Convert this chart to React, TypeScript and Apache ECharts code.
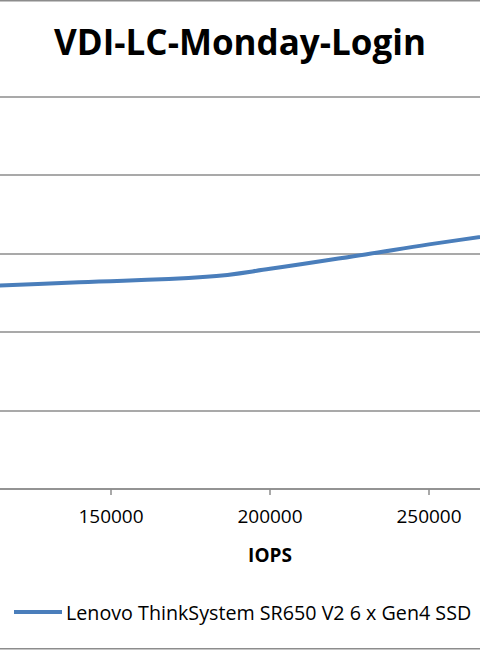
import React, { useEffect, useRef } from "react";
import * as echarts from "echarts";

const TITLE = "VDI-LC-Monday-Login";
const X_NAME = "IOPS";
const SERIES_NAME = "Lenovo ThinkSystem SR650 V2 6 x Gen4 SSD";
const IOPS = [100000, 140000, 180000, 200000, 230000, 250000, 280000];
const LATENCY = [1.285, 1.317, 1.352, 1.403, 1.495, 1.559, 1.645];

const FONT = "'Open Sans', 'Noto Sans', sans-serif";

export default function App() {
  const ref = useRef<HTMLDivElement>(null);
  useEffect(() => {
    if (!ref.current) return;
    const chart = echarts.init(ref.current, undefined, { renderer: "svg" });
    chart.setOption({
      animation: false,
      backgroundColor: "#ffffff",
      title: {
        text: TITLE,
        left: "center",
        top: 19,
        textStyle: { fontFamily: FONT, fontSize: 35, fontWeight: "bold", color: "#000" },
      },
      legend: {
        bottom: 23,
        left: 9,
        itemWidth: 48,
        itemHeight: 4,
        itemGap: 4,
        icon: "rect",
        textStyle: { fontFamily: FONT, fontSize: 19.7, color: "#000", padding: [0, 0, 0, -1] },
        data: [SERIES_NAME],
      },
      grid: {
        left: -48,
        right: -108,
        top: 96.7,
        bottom: 161,
        containLabel: false,
        outerBoundsMode: "none",
      },
      xAxis: {
        type: "value",
        min: 100000,
        max: 300000,
        interval: 50000,
        name: X_NAME,
        nameLocation: "middle",
        nameGap: 56,
        nameTextStyle: { fontFamily: FONT, fontSize: 19, fontWeight: "bold", color: "#000" },
        axisLine: { lineStyle: { color: "#8c8c8c", width: 1.5 } },
        axisTick: { show: true, length: 6, lineStyle: { color: "#8c8c8c", width: 1.5 } },
        axisLabel: {
          fontFamily: FONT,
          fontSize: 19,
          color: "#000",
          margin: 17,
          showMinLabel: false,
          showMaxLabel: false,
          formatter: (v: number) => String(v),
        },
        splitLine: { show: false },
      },
      yAxis: {
        type: "value",
        min: 0,
        max: 2.5,
        interval: 0.5,
        axisLine: { show: false },
        axisTick: { show: false },
        axisLabel: { show: false },
        splitLine: { lineStyle: { color: "#8c8c8c", width: 1.5 } },
      },
      series: [
        {
          name: SERIES_NAME,
          type: "line",
          data: IOPS.map((x, i) => [x, LATENCY[i]]),
          smooth: 0.4,
          showSymbol: false,
          lineStyle: { color: "#4a7ebb", width: 4 },
          itemStyle: { color: "#4a7ebb" },
        },
      ],
      graphic: [
        {
          type: "rect",
          shape: { x: -10, y: 0.75, width: 500, height: 648 },
          style: { fill: "none", stroke: "#8c8c8c", lineWidth: 1.5 },
          silent: true,
        },
      ],
    });
    return () => chart.dispose();
  }, []);
  return (
    <div
      ref={ref}
      style={{ position: "fixed", left: 0, top: 0, width: 480, height: 650 }}
    />
  );
}
